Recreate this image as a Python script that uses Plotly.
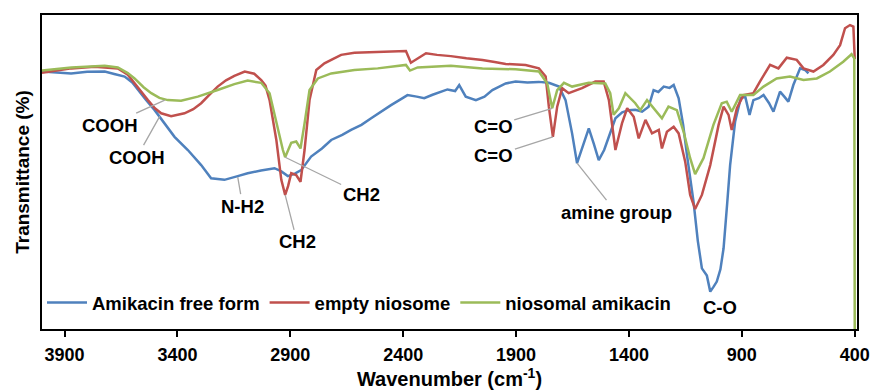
import plotly.graph_objects as go

# ---- data ----
wn_free = [4000, 3935, 3871, 3800, 3722, 3680, 3634, 3600, 3575, 3540, 3501, 3457, 3413, 3354, 3295,
           3251, 3192, 3133, 3089, 3030, 2970, 2940, 2911, 2880, 2852, 2808, 2760, 2719, 2670, 2631,
           2585, 2542, 2500, 2454, 2410, 2381, 2340, 2307, 2270, 2248, 2204, 2170, 2152, 2123, 2078,
           2040, 2005, 1946, 1902, 1850, 1800, 1755, 1710, 1681, 1652, 1630, 1610, 1578, 1556, 1534,
           1510, 1489, 1460, 1430, 1401, 1372, 1342, 1313, 1291, 1270, 1246, 1220, 1202, 1180, 1160,
           1143, 1114, 1095, 1077, 1055, 1040, 1025, 1011, 995, 981, 965, 952, 930, 905, 885,
           866, 849, 825, 804, 780, 760, 731, 712, 694, 672, 642, 620, 605]
t_free = [82.0, 81.6, 81.4, 81.9, 82.0, 81.2, 80.4, 78.5, 76.1, 73.0, 69.7, 65.5, 61.2, 57.0, 52.2,
          48.0, 47.5, 48.7, 49.6, 50.5, 51.2, 50.2, 48.7, 49.5, 50.6, 54.9, 57.5, 60.2, 61.8, 63.4,
          65.0, 67.1, 69.2, 71.3, 73.2, 74.5, 74.0, 73.5, 74.6, 75.1, 76.3, 75.8, 77.7, 74.0, 72.9,
          74.0, 76.1, 78.2, 78.8, 78.5, 78.7, 78.4, 77.2, 72.9, 62.3, 52.8, 57.0, 63.9, 59.0, 53.8,
          57.0, 61.2, 67.1, 69.0, 69.7, 69.8, 69.2, 70.8, 76.1, 75.5, 77.2, 76.8, 77.7, 73.5, 65.0,
          55.4, 40.5, 28.0, 19.3, 17.0, 11.9, 13.5, 15.1, 19.0, 25.7, 40.0, 52.2, 66.0, 73.5, 74.0,
          68.2, 72.9, 73.5, 74.5, 72.0, 69.2, 75.6, 74.0, 72.4, 77.7, 83.0, 82.5, 81.4]

wn_empty = [4000, 3870, 3767, 3664, 3620, 3590, 3560, 3531, 3500, 3472, 3428, 3369, 3330, 3295, 3260,
            3222, 3185, 3148, 3102, 3060, 3029, 3010, 2992, 2962, 2940, 2923, 2910, 2896, 2874, 2855,
            2837, 2815, 2785, 2749, 2710, 2675, 2616, 2513, 2388, 2366, 2336, 2299, 2250, 2189, 2120,
            2049, 1995, 1946, 1858, 1799, 1769, 1755, 1737, 1718, 1696, 1667, 1608, 1549, 1512, 1489,
            1460, 1431, 1408, 1379, 1357, 1327, 1298, 1268, 1254, 1232, 1202, 1180, 1151, 1129, 1107,
            1077, 1040, 1003, 981, 959, 945, 922, 893, 849, 820, 775, 738, 701, 657, 627,
            583, 539, 495, 465, 443, 421, 406, 400]
t_empty = [81.6, 83.0, 83.5, 83.0, 81.0, 78.2, 75.5, 72.9, 70.3, 68.7, 67.8, 68.7, 70.0, 71.9, 74.5,
           77.2, 79.2, 80.6, 82.0, 81.3, 79.3, 77.5, 72.9, 60.2, 47.5, 42.7, 45.5, 49.6, 49.0, 46.9,
           57.0, 72.9, 82.5, 84.6, 86.0, 87.3, 88.0, 88.3, 88.5, 84.8, 86.2, 87.8, 87.3, 86.9, 86.2,
           85.7, 85.0, 84.4, 84.1, 83.0, 80.4, 70.8, 61.2, 70.8, 76.7, 75.1, 76.7, 78.8, 78.8, 72.9,
           57.0, 65.5, 70.3, 67.6, 60.7, 66.6, 62.3, 63.4, 57.5, 62.8, 64.4, 62.3, 53.3, 42.7, 38.2,
           42.7, 52.2, 65.0, 70.8, 68.2, 63.4, 70.3, 74.5, 75.1, 78.8, 84.1, 83.0, 86.4, 85.7, 83.0,
           82.0, 84.1, 87.3, 90.4, 95.8, 96.8, 96.3, 86.0]

wn_nio = [4000, 3870, 3722, 3664, 3620, 3590, 3550, 3516, 3480, 3443, 3384, 3310, 3222, 3148, 3089,
          3029, 2992, 2962, 2933, 2923, 2896, 2874, 2855, 2837, 2815, 2778, 2719, 2616, 2513, 2388,
          2370, 2336, 2189, 2049, 1902, 1799, 1762, 1740, 1718, 1688, 1652, 1578, 1505, 1483, 1468,
          1445, 1416, 1372, 1350, 1320, 1291, 1254, 1225, 1188, 1158, 1129, 1107, 1070, 1026, 989,
          967, 945, 908, 849, 804, 746, 687, 627, 568, 510, 451, 414, 402, 400]
t_nio = [82.3, 83.3, 83.8, 83.3, 81.5, 79.8, 77.0, 75.1, 73.6, 72.9, 72.7, 74.0, 76.1, 78.0, 79.1,
         78.4, 75.1, 65.5, 57.0, 54.7, 59.3, 59.7, 57.5, 65.5, 76.1, 79.8, 81.4, 82.5, 83.0, 84.1,
         82.3, 83.3, 83.8, 83.0, 82.7, 82.0, 78.2, 70.3, 76.1, 78.4, 77.2, 78.4, 78.2, 75.1, 68.2,
         70.3, 75.1, 71.9, 69.7, 72.9, 70.3, 67.1, 70.8, 69.7, 62.8, 54.4, 49.3, 54.4, 65.0, 71.9,
         72.4, 69.2, 74.5, 74.5, 77.2, 79.8, 80.4, 79.3, 79.8, 82.0, 85.1, 87.5, 86.2, 0.0]

series_names = ["Amikacin free form", "empty niosome", "niosomal amikacin"]
series_colors = ["#4F81BD", "#C0504D", "#9BBB59"]
tick_vals = [3900, 3400, 2900, 2400, 1900, 1400, 900, 400]

# peak labels: (text, wavenumber, transmittance, dx, dy, arrow)
peak_labels = [
    ("COOH", 3456, 72.9, -55, 25, True),
    ("COOH", 3478, 67.8, -23, 41, True),
    ("N-H2", 3133, 48.4, 5, 29, True),
    ("CH2", 2923, 42.7, 12, 47, True),
    ("CH2", 2923, 54.7, 76, 37, True),
    ("C=O", 1740, 70.3, -59, 18, True),
    ("C=O", 1737, 61.2, -59, 19, True),
    ("amine group", 1630, 52.8, 39, 49, True),
    ("C-O", 999, 7.0, 0, 0, False),
]

FONT = "Arial, Liberation Sans, sans-serif"

fig = go.Figure()
for wn, tt, name, col in zip([wn_free, wn_empty, wn_nio], [t_free, t_empty, t_nio],
                             series_names, series_colors):
    fig.add_trace(go.Scatter(x=wn, y=tt, mode="lines", name=name,
                             line=dict(color=col, width=2.5)))

for text, xw, yt, dx, dy, arrow in peak_labels:
    fig.add_annotation(x=xw, y=yt, text=text, showarrow=arrow, ax=dx, ay=dy,
                       arrowhead=0, arrowwidth=1.3, arrowcolor="#A6A6A6",
                       font=dict(family=FONT, size=18.5, color="black", weight="bold"))

fig.update_layout(
    width=875, height=390,
    margin=dict(l=42, r=18, t=15, b=61),
    paper_bgcolor="white", plot_bgcolor="white",
    font=dict(family=FONT, color="black", weight="bold"),
    showlegend=True,
    legend=dict(orientation="h", x=0.0, xanchor="left", y=0.083, yanchor="middle",
                bgcolor="rgba(0,0,0,0)", font=dict(size=18.5, weight="bold"),
                itemwidth=40, tracegroupgap=0),
    xaxis=dict(range=[4000, 390], tickvals=tick_vals, ticks="outside", ticklen=6,
               tickwidth=1.5, tickcolor="black", showline=True, linecolor="black",
               linewidth=1.5, mirror=True, showgrid=False, zeroline=False,
               ticklabelstandoff=3, automargin=False,
               tickfont=dict(size=18, weight="bold"),
               title=dict(text="Wavenumber (cm<sup>-1</sup>)", font=dict(size=20, weight="bold"),
                          standoff=10)),
    yaxis=dict(range=[0, 100], showticklabels=False, ticks="", showline=True, linecolor="black",
               linewidth=1.5, mirror=True, showgrid=False, zeroline=False, automargin=False,
               title=dict(text="Transmittance (%)", font=dict(size=19, weight="bold"),
                          standoff=6)),
)

fig.write_html("out.html", config={"displayModeBar": False},
               post_script="document.body.style.margin='0';")
